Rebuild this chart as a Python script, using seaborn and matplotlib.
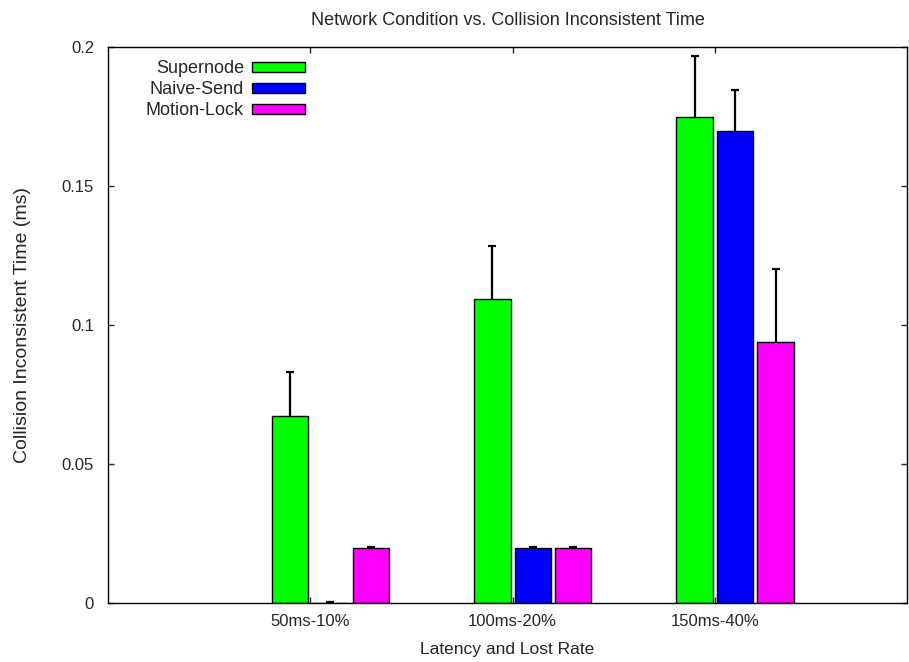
import numpy as np
import pandas as pd
import matplotlib
matplotlib.use('Agg')
import matplotlib.pyplot as plt
from matplotlib.ticker import FuncFormatter
import seaborn as sns

# Data
conditions = ['50ms-10%', '100ms-20%', '150ms-40%']
methods = ['Supernode', 'Naive-Send', 'Motion-Lock']
supernode = [0.0673, 0.1094, 0.1748]
supernode_err = [0.0158, 0.0190, 0.0220]
naive_send = [0.0, 0.0199, 0.1698]
naive_send_err = [0.0003, 0.0003, 0.0147]
motion_lock = [0.0198, 0.0199, 0.0939]
motion_lock_err = [0.0003, 0.0003, 0.0262]
colors = {'Supernode': '#00ff00', 'Naive-Send': '#0000ff', 'Motion-Lock': '#ff00ff'}

df = pd.DataFrame({
    'condition': conditions * 3,
    'method': np.repeat(methods, 3),
    'time': supernode + naive_send + motion_lock,
    'err': supernode_err + naive_send_err + motion_lock_err,
})

sns.set_style('ticks')
plt.rcParams['font.family'] = ['Liberation Sans', 'DejaVu Sans']

fig = plt.figure(figsize=(9.09, 6.62), dpi=100)
ax = fig.add_axes([0.1188, 0.0891, 0.879, 0.8399])

sns.barplot(data=df, x='condition', y='time', hue='method', order=conditions,
            hue_order=methods, palette=colors, width=0.6, gap=0.1,
            errorbar=None, edgecolor='black', linewidth=1.0, saturation=1,
            ax=ax)

# error bars drawn behind the bars so only the upper half shows
for cont, m in zip(ax.containers, methods):
    errs = df[df['method'] == m]['err'].values
    xs = [b.get_x() + b.get_width() / 2 for b in cont]
    hs = [b.get_height() for b in cont]
    ax.errorbar(xs, hs, yerr=errs, fmt='none', ecolor='black',
                elinewidth=1.6, capsize=3, capthick=1.6, zorder=0.5)

ax.set_ylim(0, 0.2)
ax.set_yticks([0, 0.05, 0.1, 0.15, 0.2])
ax.yaxis.set_major_formatter(FuncFormatter(lambda v, p: '%g' % v))
ax.set_xticks(np.arange(len(conditions)) - 0.1, conditions)
ax.set_xlim(-1.1, 2.85)

for s in ax.spines.values():
    s.set_visible(True)
    s.set_linewidth(1.0)
    s.set_color('black')
ax.tick_params(direction='in', length=4, width=1, top=True, right=True,
               labelsize=12)
ax.tick_params(axis='x', pad=8)
ax.tick_params(axis='y', pad=10)

ax.set_title('Network Condition vs. Collision Inconsistent Time', fontsize=13, pad=16)
ax.set_xlabel('Latency and Lost Rate', fontsize=12.5, labelpad=9)
ax.set_ylabel('Collision Inconsistent Time (ms)', fontsize=14, labelpad=22)

handles, labels = ax.get_legend_handles_labels()
ax.legend(handles, labels, loc='upper right', bbox_to_anchor=(0.246, 0.976),
          frameon=False, markerfirst=False, fontsize=13, handlelength=2.9,
          handleheight=0.5, handletextpad=0.45, labelspacing=0.22,
          borderpad=0, borderaxespad=0)

fig.savefig('out.png', dpi=100)
